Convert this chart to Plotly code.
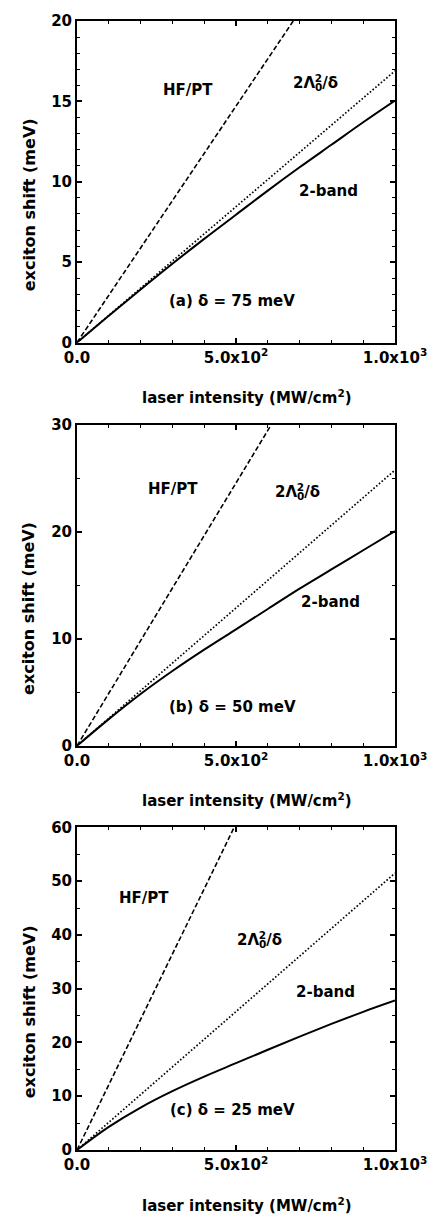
import plotly.graph_objects as go

# ---------------- data ----------------
intensity = [0, 100, 200, 300, 400, 500, 600, 700, 800, 900, 1000]

# panel (a) delta = 75 meV
a_two_band = [0, 1.67, 3.3, 4.9, 6.45, 7.95, 9.45, 10.9, 12.3, 13.7, 15.05]
a_lin_x = [0, 1000]
a_lin_y = [0, 16.9]
a_hf_x = [0, 680]
a_hf_y = [0, 20]

# panel (b) delta = 50 meV
b_two_band = [0, 2.5, 4.85, 7.0, 9.0, 10.9, 12.8, 14.7, 16.5, 18.3, 20.1]
b_lin_x = [0, 1000]
b_lin_y = [0, 25.8]
b_hf_x = [0, 610]
b_hf_y = [0, 30]

# panel (c) delta = 25 meV
c_two_band = [0, 4.3, 7.9, 10.95, 13.65, 16.15, 18.65, 21.1, 23.45, 25.7, 27.8]
c_lin_x = [0, 1000]
c_lin_y = [0, 51.5]
c_hf_x = [0, 494]
c_hf_y = [0, 60]

x_tickvals = [0, 500, 1000]
x_ticktext = ["0.0", "5.0x10<sup>2</sup>", "1.0x10<sup>3</sup>"]

panel_labels = ["(a) δ = 75 meV", "(b) δ = 50 meV", "(c) δ = 25 meV"]
y_ranges = [20, 30, 60]
y_major = [5, 10, 10]
y_minor = [1, 5, 5]

FONT = "DejaVu Sans"
BLACK = "black"

fig = go.Figure()

panels = [
    (a_two_band, a_lin_x, a_lin_y, a_hf_x, a_hf_y),
    (b_two_band, b_lin_x, b_lin_y, b_hf_x, b_hf_y),
    (c_two_band, c_lin_x, c_lin_y, c_hf_x, c_hf_y),
]

for i, (tb, lx, ly, hx, hy) in enumerate(panels):
    xa = "x" if i == 0 else f"x{i+1}"
    ya = "y" if i == 0 else f"y{i+1}"
    fig.add_trace(go.Scatter(x=hx, y=hy, mode="lines", xaxis=xa, yaxis=ya,
                             line=dict(color=BLACK, width=1.6, dash="5px,2.5px"),
                             showlegend=False, hoverinfo="skip"))
    fig.add_trace(go.Scatter(x=lx, y=ly, mode="lines", xaxis=xa, yaxis=ya,
                             line=dict(color=BLACK, width=1.7, dash="1.6px,2px"),
                             showlegend=False, hoverinfo="skip"))
    fig.add_trace(go.Scatter(x=intensity, y=tb, mode="lines", xaxis=xa, yaxis=ya,
                             line=dict(color=BLACK, width=2, shape="spline", smoothing=1.0),
                             showlegend=False, hoverinfo="skip"))

# paper fractions of each panel (plot area 1134 px tall)
domains = [[0.7152, 1.0], [0.358, 0.642], [0.0, 0.2857]]

layout = dict(
    width=439, height=1220,
    margin=dict(l=77, r=38, t=16, b=70),
    paper_bgcolor="white", plot_bgcolor="white",
    font=dict(family=FONT, color=BLACK, size=15, weight="bold"),
    showlegend=False,
)

for i in range(3):
    xk = "xaxis" if i == 0 else f"xaxis{i+1}"
    yk = "yaxis" if i == 0 else f"yaxis{i+1}"
    ya = "y" if i == 0 else f"y{i+1}"
    xa = "x" if i == 0 else f"x{i+1}"
    layout[xk] = dict(
        domain=[0, 1], anchor=ya, range=[0, 1000],
        showgrid=False, zeroline=False,
        showline=True, linecolor=BLACK, linewidth=2, mirror="ticks",
        ticks="inside", ticklen=5, tickwidth=1.5, tickcolor=BLACK,
        tickvals=x_tickvals, ticktext=x_ticktext,
        tickfont=dict(family=FONT, size=15, color=BLACK, weight="bold"),
        minor=dict(dtick=100, tick0=0, ticks="inside", ticklen=3,
                   tickwidth=1.2, tickcolor=BLACK, showgrid=False),
    )
    layout[yk] = dict(
        domain=domains[i], anchor=xa, range=[0, y_ranges[i]],
        showgrid=False, zeroline=False,
        showline=True, linecolor=BLACK, linewidth=2, mirror="ticks",
        ticks="inside", ticklen=5, tickwidth=1.5, tickcolor=BLACK,
        tick0=0, dtick=y_major[i],
        tickfont=dict(family=FONT, size=15, color=BLACK, weight="bold"),
        minor=dict(dtick=y_minor[i], tick0=0, ticks="inside", ticklen=3,
                   tickwidth=1.2, tickcolor=BLACK, showgrid=False),
    )

fig.update_layout(**layout)

# in-plot labels: (x, y) positions per panel in data units
hf_pos = [(348, 15.7), (302, 24.0), (210, 46.9)]
lam_pos = [(750, 16.2), (694, 23.8), (575, 39.3)]
band_pos = [(790, 9.4), (796, 13.5), (781, 29.3)]
lab_pos = [(488, 2.6), (488, 3.6), (488, 7.4)]

lam_text = '2Λ<sub><span style="letter-spacing:-7.5px">0</span></sub><sup>2</sup>/δ'

for i in range(3):
    xa = "x" if i == 0 else f"x{i+1}"
    ya = "y" if i == 0 else f"y{i+1}"
    tf = dict(family=FONT, size=15, color=BLACK, weight="bold")
    fig.add_annotation(x=hf_pos[i][0], y=hf_pos[i][1], xref=xa, yref=ya,
                       text="HF/PT", showarrow=False, font=tf)
    fig.add_annotation(x=lam_pos[i][0], y=lam_pos[i][1], xref=xa, yref=ya,
                       text=lam_text, showarrow=False, font=tf)
    fig.add_annotation(x=band_pos[i][0], y=band_pos[i][1], xref=xa, yref=ya,
                       text="2-band", showarrow=False, font=tf)
    fig.add_annotation(x=lab_pos[i][0], y=lab_pos[i][1], xref=xa, yref=ya,
                       text=panel_labels[i], showarrow=False, font=tf)
    # axis titles
    fig.add_annotation(x=0.534, y=-0.17, xref=f"{xa} domain", yref=f"{ya} domain",
                       text="laser intensity (MW/cm<sup>2</sup>)", showarrow=False,
                       xanchor="center", yanchor="middle",
                       font=dict(family=FONT, size=15, color=BLACK, weight="bold"))
    fig.add_annotation(x=-0.151, y=0.43, xref=f"{xa} domain", yref=f"{ya} domain",
                       text="exciton shift (meV)", showarrow=False, textangle=-90,
                       xanchor="center", yanchor="middle",
                       font=dict(family=FONT, size=16, color=BLACK, weight="bold"))

fig.write_html(
    "out.html",
    config={"displayModeBar": False},
    post_script="document.body.style.margin='0';document.body.style.overflow='hidden';",
)
